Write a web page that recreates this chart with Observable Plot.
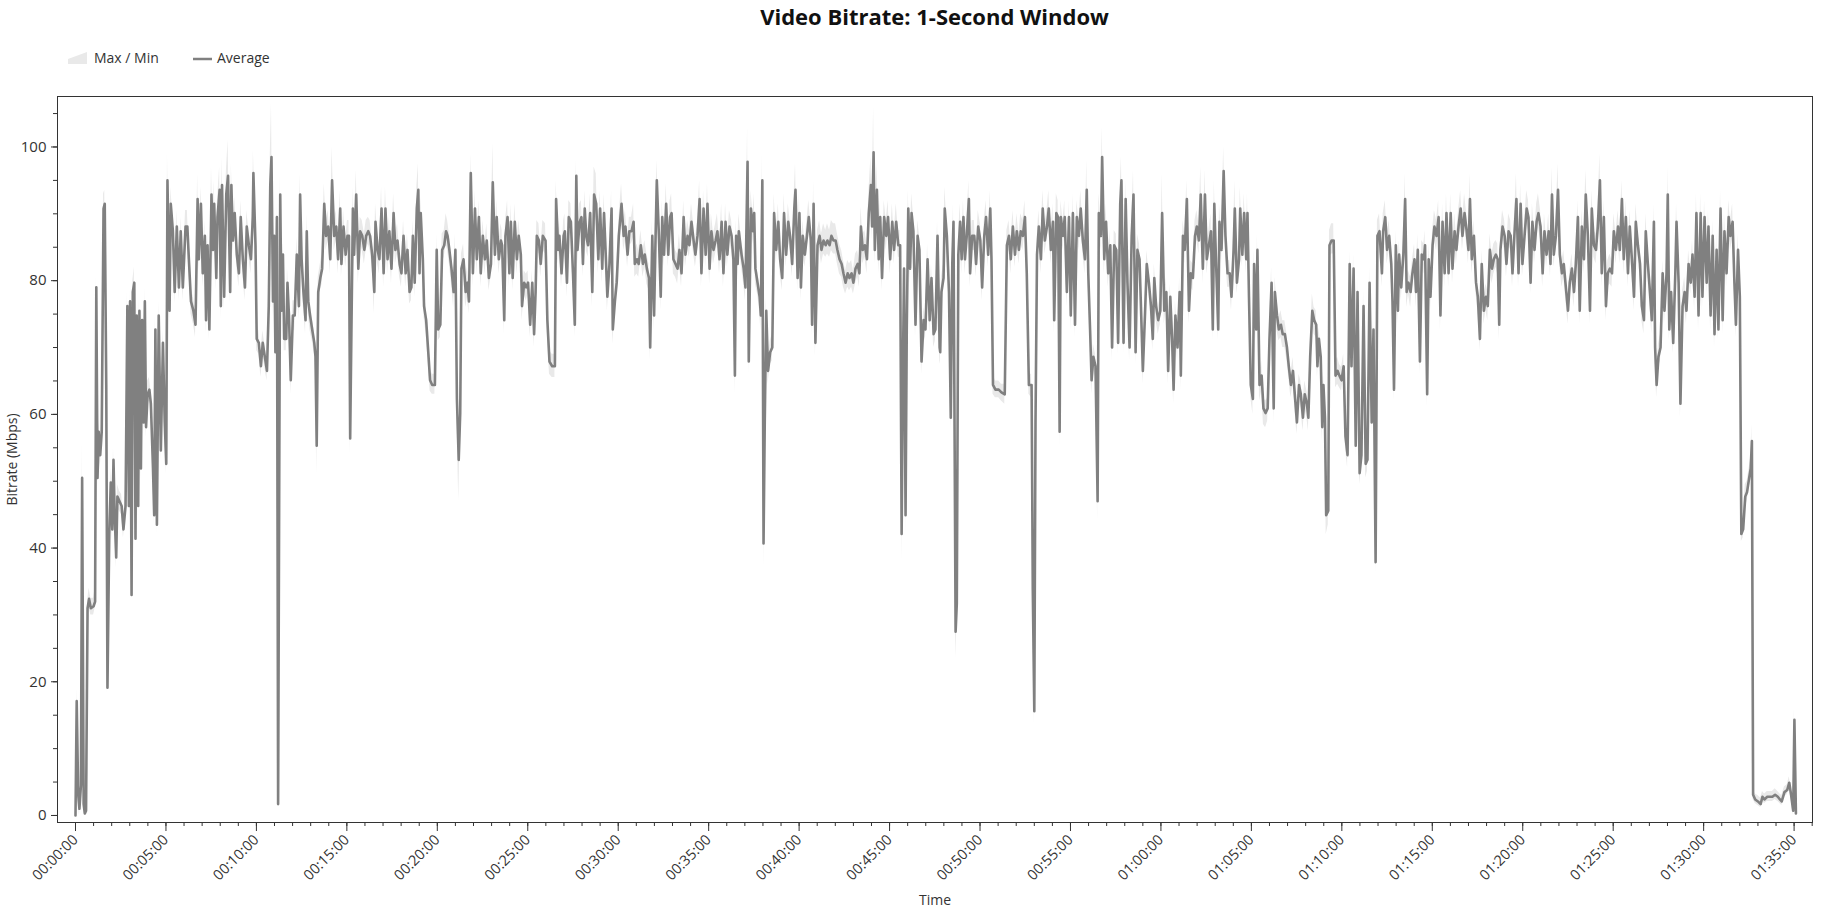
<!DOCTYPE html>
<html>
<head>
<meta charset="utf-8">
<script src="https://cdn.jsdelivr.net/npm/d3@7"></script>
<script src="https://cdn.jsdelivr.net/npm/@observablehq/plot@0.6"></script>
<style>
  html, body { margin: 0; padding: 0; background: #fff; }
  body { font-family: "Open Sans", "Noto Sans", sans-serif; color: #333; }
  #head { position: relative; width: 1838px; height: 80px; }
  #title { position: absolute; left: 0; top: 2px; width: 1869px; text-align: center;
           font-weight: 700; font-size: 22px; line-height: 28px; color: #111; }
  .lg { position: absolute; font-size: 14px; line-height: 20px; top: 48px; color: #333; white-space: nowrap; }
  .sw { position: absolute; }
  #chart svg { display: block; }
</style>
</head>
<body>
<div id="head">
  <div id="title">Video Bitrate: 1-Second Window</div>
  <svg class="sw" style="left:68px;top:52px" width="20" height="12"><polygon points="0,12 0,7 19,0 19,12" fill="#e9e9e9"/></svg>
  <div class="lg" style="left:94px">Max / Min</div>
  <svg class="sw" style="left:193px;top:53px" width="20" height="12"><line x1="0" y1="6" x2="19" y2="6" stroke="#808080" stroke-width="2.5"/></svg>
  <div class="lg" style="left:217px">Average</div>
</div>
<div id="chart"></div>
<script>
// Time of each 1-second window sample (seconds from start)
const timeSec = [
  0,4,9,13,18,22,27,31,35,40,
  45,51,60,65,69,73,77,82,87,93,
  97,102,106,112,117,122,126,130,135,139,
  146,153,159,166,172,177,181,186,190,195,
  199,203,208,212,217,221,226,230,234,239,
  245,250,257,261,265,270,276,283,290,296,
  301,305,312,316,323,329,336,343,349,356,
  365,371,376,383,391,398,405,409,416,422,
  429,433,438,444,451,456,460,467,471,478,
  482,486,493,500,506,513,517,522,528,535,
  542,548,555,562,568,575,582,588,590,597,
  601,608,615,621,628,635,641,646,650,655,
  659,663,668,672,679,683,688,692,699,703,
  708,714,721,727,734,741,745,750,756,763,
  767,772,778,785,792,796,800,805,812,818,
  825,831,838,845,851,858,865,871,878,882,
  889,896,902,907,911,915,920,924,931,938,
  944,951,958,964,971,977,984,991,995,1002,
  1008,1015,1022,1028,1035,1041,1048,1055,1061,1068,
  1075,1081,1088,1095,1101,1108,1114,1119,1125,1132,
  1137,1141,1145,1152,1156,1163,1170,1176,1183,1192,
  1198,1203,1210,1216,1223,1229,1234,1240,1247,1254,
  1260,1265,1271,1276,1280,1287,1294,1300,1305,1311,
  1318,1325,1331,1338,1344,1351,1358,1364,1371,1378,
  1384,1391,1397,1404,1411,
  1415,1422,1426,1433,1439,1444,1450,1457,1464,1470,
  1477,1481,1488,1495,1501,1508,1515,1521,1526,1530,
  1537,1543,1550,1559,1565,1572,1581,1590,1594,1601,
  1605,1612,1619,1623,1630,1636,1643,1650,1656,1661,
  1665,1672,1678,1683,1689,1694,1700,1707,1714,1720,
  1727,1734,1740,1747,1753,1758,1764,1771,1778,1782,
  1789,1795,1802,1811,1818,1824,1831,1837,1844,1851,
  1855,1862,1868,1875,1882,1888,1895,1902,1906,1913,
  1919,1924,1928,1935,1941,1946,1952,1959,1966,1972,
  1977,1983,1990,1997,2003,2010,2017,2023,2030,2036,
  2043,2050,2056,2063,2070,2076,2083,2090,2096,2103,
  2109,2116,2123,2129,2136,2143,2149,2156,2162,2169,
  2176,2182,2187,2191,2196,2200,2209,2216,2222,2229,
  2233,2240,2247,2251,2255,2262,2269,2273,2278,2282,
  2286,2291,2297,2304,2311,2317,2324,2331,2337,2344,
  2350,2357,2364,2370,2377,2384,2388,2395,2401,2406,
  2412,2419,2426,2432,2439,2443,2448,2454,2461,2468,
  2474,2481,2488,2494,2501,2507,2514,2521,2527,2534,
  2541,2547,2554,2561,2567,2574,2580,2587,2594,2600,
  2605,2611,2618,2625,2631,2638,2642,2647,2651,2658,
  2664,2669,2675,2682,2689,2695,2702,2709,2715,2722,
  2729,2735,2740,2744,2748,2753,2757,2762,2768,2773,
  2779,2786,2793,2799,2806,2813,2819,2826,2833,2839,
  2846,2852,2859,2866,
  2868,2872,2879,2883,2890,2897,2903,2908,2912,2919,
  2923,2928,2934,2939,2945,2950,2956,2963,2967,2974,
  2981,2987,2994,3001,3007,3014,3020,3027,3034,3038,
  3043,3051,3062,3071,3082,3089,3096,3102,3109,3116,
  3122,3129,3135,3142,3149,3155,3162,3171,3175,3180,
  3184,3189,3195,3202,3208,3215,3222,3228,3235,3242,
  3246,3253,3259,3264,3268,3275,3281,3288,3295,3301,
  3308,3315,3321,3328,3334,3341,3348,3354,3359,3365,
  3370,3376,3383,3390,3394,3401,3405,3412,3418,3425,
  3432,3438,3445,3452,3458,3465,3469,3476,3483,3489,
  3496,3503,3509,3516,3522,3529,3536,3540,3547,3553,
  3560,3567,3573,3578,3584,3591,3598,3604,3611,3618,
  3624,3631,3637,3642,3648,3655,3662,3666,3673,3679,
  3686,3693,3699,3706,3713,3719,3726,3732,3739,3746,
  3752,3759,3766,3772,3777,3783,3790,3794,3801,3808,
  3814,3821,3828,3834,3841,3845,3852,3859,3863,3870,
  3876,3883,3887,3892,3898,3905,3909,3916,3920,3927,
  3934,3940,3947,3954,3960,3967,3974,3978,3985,3991,
  3998,4004,4011,4018,4024,4031,4038,4044,4051,4058,
  4064,4071,4077,4084,4089,4095,4102,4108,4115,4119,
  4124,4130,4135,4139,4144,4148,4155,4159,4166,4173,
  4179,4186,4192,4199,4206,4212,4219,4226,4232,4239,
  4246,4252,4259,4265,4272,4279,4285,4292,4299,4305,
  4312,4318,4325,
  4333,4337,4344,4350,4357,4364,4368,4373,4379,4386,
  4390,4397,4404,4410,4415,4421,4428,4434,4441,4446,
  4452,4459,4465,4472,4476,4483,4488,4494,4501,4507,
  4514,4521,4527,4534,4541,4547,4554,4561,4567,4574,
  4580,4587,4594,4600,4607,4614,4620,4625,4631,4638,
  4645,4651,4658,4664,4671,4678,4684,4691,4698,4704,
  4711,4717,4722,4726,4733,4740,4746,4753,4760,4766,
  4773,4779,4786,4793,4799,4806,4813,4819,4826,4832,
  4839,4846,4852,4859,4866,4872,4879,4886,4892,4897,
  4903,4910,4917,4923,4930,4936,4943,4950,4956,4963,
  4970,4976,4983,4989,4996,5003,5009,5016,5023,5029,
  5036,5043,5049,5056,5062,5069,5076,5082,5089,5096,
  5102,5109,5116,5122,5129,5135,5142,5149,5155,5162,
  5169,5175,5182,5189,5195,5202,5208,5215,5222,5228,
  5235,5239,5244,5250,5257,5264,5270,5277,5281,5286,
  5292,5299,5306,5310,5317,5323,5330,5337,5343,5350,
  5357,5363,5370,5376,5383,5390,5396,5403,5410,5416,
  5423,5430,5436,5443,5449,5456,5463,5469,5476,5483,
  5489,5496,5502,5507,5514,5520,5525,5531,5538,5544,
  5551,5556,5560,5564,5571,5580,5589,5595,5602,5611,
  5620,5628,5637,5646,5653,5659,5668,5677,5684,5690,
  5697,5701,5706
];

// Average bitrate (Mbps)
const avgMbps = [
  0.0,17.1,3.1,1.0,4.5,50.5,1.7,0.3,0.7,31.0,
  32.4,31.0,31.3,32.0,79.0,50.5,57.4,53.9,57.4,90.8,
  91.5,64.4,19.1,42.1,49.8,42.8,53.2,44.9,38.6,47.7,
  47.0,46.3,42.8,46.3,76.2,46.3,76.9,33.0,78.3,79.7,
  41.4,74.8,46.3,75.5,51.9,74.1,58.8,76.9,58.1,63.0,
  63.7,61.6,51.9,44.9,72.7,43.5,74.8,54.6,70.7,58.8,
  52.6,95.0,75.5,91.5,87.4,78.3,88.1,79.0,87.4,79.0,
  88.1,88.1,83.2,76.9,75.5,73.4,92.2,83.2,91.5,81.1,
  86.7,74.1,85.3,72.7,92.9,84.6,91.5,80.4,89.5,93.6,
  76.2,94.3,77.6,92.9,95.7,78.3,94.3,86.0,90.1,83.9,
  81.1,89.5,83.2,79.0,88.1,85.3,83.2,89.5,96.1,85.3,
  71.3,70.7,67.2,70.7,68.6,66.5,76.2,94.3,98.5,76.9,
  86.7,69.3,89.5,1.7,92.9,75.5,83.9,71.3,71.3,79.7,
  74.8,65.1,74.8,74.8,83.9,76.2,92.9,83.2,78.3,74.1,
  87.4,76.9,74.8,72.7,70.7,68.6,55.3,78.3,80.4,81.8,
  91.5,86.7,88.1,83.2,95.0,86.7,88.1,83.2,90.8,82.5,
  88.1,83.9,86.7,86.7,56.4,72.0,90.8,83.9,92.9,81.8,
  87.4,86.7,84.6,86.7,87.4,86.7,83.9,78.3,88.8,84.6,
  83.2,90.8,81.1,90.8,83.2,87.4,81.8,90.1,84.6,86.0,
  82.5,81.1,86.7,81.1,84.6,78.3,79.0,86.7,79.7,90.8,
  93.6,81.1,90.1,83.2,76.2,74.1,69.3,65.1,64.4,64.4,
  84.6,72.7,73.4,84.6,85.3,87.4,86.7,84.6,81.8,78.3,
  84.6,62.3,53.2,60.2,81.8,83.2,78.3,79.7,76.9,96.1,
  81.1,90.8,83.2,89.5,81.1,86.7,83.2,86.0,80.4,82.5,
  94.7,83.9,89.5,83.2,86.0,
  85.3,74.1,86.7,89.5,81.1,88.8,80.4,88.8,83.2,86.7,
  83.9,76.2,79.7,79.0,79.7,73.4,79.7,72.0,78.3,86.7,
  86.0,82.5,86.7,86.0,74.1,67.9,67.2,67.2,92.2,84.6,
  86.7,81.1,86.7,87.4,79.7,89.5,88.8,81.1,73.4,95.7,
  84.6,88.8,89.5,82.5,90.8,86.7,85.3,90.1,78.3,92.9,
  91.5,83.2,90.8,81.8,90.1,84.6,77.6,82.5,90.8,72.7,
  76.9,79.7,86.7,91.5,86.7,88.1,83.9,87.4,87.4,88.8,
  82.5,83.2,82.5,85.3,82.5,83.9,81.8,80.4,70.0,86.7,
  74.8,86.7,95.0,86.7,77.6,89.5,83.9,91.5,83.9,89.5,
  90.1,83.2,82.5,81.8,84.6,81.1,89.5,83.9,86.7,85.3,
  88.8,86.0,83.9,86.7,92.2,81.1,90.8,83.9,91.5,81.8,
  87.4,84.6,86.0,87.4,83.2,88.8,81.1,88.8,83.9,88.1,
  86.7,83.2,65.8,86.7,82.5,87.4,83.9,81.8,79.0,97.8,
  67.9,90.8,87.4,90.1,81.8,79.7,77.6,74.8,95.0,40.7,
  58.8,75.5,66.5,69.3,70.0,90.1,84.6,88.8,83.2,80.4,
  90.1,83.9,88.8,86.7,82.5,90.8,93.6,80.4,90.1,79.0,
  86.7,83.9,86.7,89.5,86.0,73.4,91.5,70.7,85.3,86.7,
  84.6,86.0,85.3,86.0,85.3,86.7,86.0,86.0,84.6,83.2,
  82.5,81.1,79.7,81.1,80.4,81.1,79.7,81.8,82.5,81.1,
  88.1,84.6,85.3,83.2,90.1,94.3,88.1,99.2,84.6,93.6,
  83.2,89.5,80.4,89.5,86.7,89.5,83.2,88.8,84.6,88.8,
  85.3,85.3,42.1,65.8,81.8,44.9,72.7,90.8,81.8,90.1,
  87.4,73.4,86.7,84.6,67.9,74.1,72.7,83.2,74.1,80.4,
  72.0,72.7,86.7,70.0,
  69.3,78.3,80.4,90.8,86.7,78.3,59.5,82.5,88.8,27.5,
  31.7,83.9,88.8,83.2,89.5,83.2,86.7,92.2,81.1,86.7,
  86.7,82.5,88.1,86.0,79.0,86.7,89.5,83.9,90.8,83.2,
  64.4,63.7,63.7,63.3,63.0,85.3,86.7,83.2,88.1,83.9,
  87.4,84.6,87.4,86.7,89.5,81.1,64.4,64.4,33.8,15.6,
  58.8,83.9,88.1,83.2,90.8,86.0,88.1,90.8,84.6,88.8,
  74.1,90.1,89.5,57.4,89.5,86.7,89.5,78.3,89.5,74.8,
  90.1,73.4,89.5,86.7,90.8,86.0,83.2,93.6,81.1,72.7,
  65.1,68.6,67.2,47.0,90.1,86.7,98.5,83.2,88.8,81.1,
  85.3,70.0,85.3,84.6,70.7,91.5,95.0,70.7,92.2,79.7,
  70.0,86.7,92.9,69.3,84.6,83.2,72.7,66.5,74.8,82.5,
  79.7,76.2,71.3,80.4,76.2,74.1,75.5,90.1,75.5,78.3,
  66.5,77.6,71.3,63.7,74.8,70.0,78.3,65.8,86.7,84.6,
  92.2,75.5,81.1,80.4,86.7,88.1,86.0,92.9,81.8,92.9,
  83.2,85.3,87.4,72.7,91.5,82.5,72.7,88.8,84.6,96.4,
  86.7,81.1,81.1,77.6,84.6,90.8,79.7,83.2,90.8,83.9,
  90.1,83.2,90.1,77.6,64.4,62.3,82.5,72.7,84.6,64.4,
  65.8,60.9,60.2,60.9,71.3,79.7,60.9,78.3,74.8,72.7,
  73.4,72.0,72.0,70.0,67.2,64.4,66.5,63.0,58.8,64.4,
  63.0,59.5,63.0,61.6,59.5,68.6,75.5,74.1,73.4,67.2,
  71.3,68.6,58.1,64.4,59.5,44.9,45.6,85.3,86.0,86.0,
  65.8,66.5,65.8,65.1,67.2,56.7,53.9,82.5,67.2,81.8,
  55.3,78.3,51.2,53.9,76.2,52.6,53.2,79.7,58.8,72.7,
  37.9,86.7,87.4,
  81.1,87.4,89.5,84.6,86.7,82.5,76.9,63.7,85.3,75.5,
  83.9,79.0,83.9,92.2,78.3,79.7,78.3,81.1,83.2,78.3,
  84.6,67.9,83.9,83.2,85.3,63.0,83.2,77.6,85.3,88.1,
  86.7,89.5,74.8,88.8,81.1,90.1,81.1,90.1,81.8,87.4,
  84.6,88.1,90.8,86.7,90.1,87.4,84.6,92.2,83.2,86.7,
  79.7,77.6,71.3,82.5,75.5,77.6,76.2,84.6,81.8,83.2,
  83.9,83.2,73.4,84.6,88.1,86.7,82.5,87.4,86.7,81.1,
  87.4,92.2,81.1,91.5,82.5,86.7,90.8,89.5,79.7,88.8,
  84.6,88.8,90.1,88.1,81.1,87.4,83.9,87.4,82.5,92.9,
  83.9,86.7,93.6,83.9,81.1,82.5,79.0,75.5,79.7,81.8,
  78.3,82.5,89.5,75.5,88.1,83.2,92.9,86.7,75.5,90.8,
  85.3,84.6,88.1,95.0,81.1,89.5,76.2,81.1,81.8,81.1,
  87.4,84.6,88.1,84.6,92.2,83.2,89.5,81.1,88.1,83.2,
  77.6,88.8,85.3,82.5,76.2,74.1,87.4,82.5,78.3,74.1,
  88.8,70.0,64.4,68.6,70.0,81.1,75.5,81.1,92.9,72.7,
  78.3,70.7,81.1,88.8,79.7,61.6,76.2,78.3,75.5,82.5,
  79.7,83.9,77.6,90.1,74.8,90.1,77.6,89.5,79.7,88.1,
  74.8,86.7,72.0,84.6,72.7,90.8,74.1,87.4,81.1,89.5,
  86.7,88.8,79.7,73.4,84.6,77.6,42.1,42.8,47.7,48.4,
  50.5,51.9,56.0,3.1,2.4,2.1,1.7,2.8,2.4,2.8,
  2.8,2.8,3.1,2.8,2.4,2.1,3.5,3.8,4.9,3.1,
  0.7,14.3,0.3
];

// Maximum bitrate within each window (Mbps)
const maxMbps = [
  0.5,19,4,2,5.5,56,2.5,1,1.5,32,
  34,32.5,32.5,34,81,52,59,55.5,59,93,
  93.5,66,20.5,44,52,44.5,55,47,40,49.5,
  48.5,48,44.5,48,78.5,48,79,35,80,82,
  43,77,48,77.5,53.5,76,60.5,79,60,65,
  65.5,63.5,53.5,46.5,75,45,77,56.5,72.5,60.5,
  54,99,77.5,94,89.5,80,90.5,81,89.5,81,
  90.5,90.5,85,79,77.5,75.5,96,85.5,94,83,
  89,76,87.5,75,97,87,95,82.5,92,97,
  78.5,98.5,80,96,101,80.5,97.5,88.5,92.5,86,
  83.5,92,85.5,81,90.5,87.5,85.5,92,99.5,87.5,
  73,72.5,69,72.5,70.5,68,78.5,99,106.5,79,
  89,71,92,4,96,77.5,86,73,73,82,
  77,67,77,77,86.5,78.5,96,85.5,80.5,76,
  90,79,77,74.5,72.5,70.5,57,80.5,82.5,84,
  94.5,89,90.5,85.5,100,89,90.5,85.5,93.5,84.5,
  90.5,86,89,89,58.5,74,94,86,96.5,84,
  89.5,89,87,89,89.5,89,86,80.5,91.5,87,
  85.5,94,83,94,85.5,89.5,84,93,87,88.5,
  84.5,83,89,83,87,80.5,81,89,82,94,
  97.5,83,92.5,85.5,78,76,71,67,66,66,
  87,74.5,75.5,87,87.5,90,89,87,84,80.5,
  87,64,55,62,84,85.5,80.5,82,79,99,
  83,93.5,85.5,92,83,89,85.5,88.5,82.5,84.5,
  100.5,86,92,85.5,88.5,
  87.5,76,89,92,83,91.5,82.5,91.5,85.5,89,
  86,78,81.5,81,81.5,75.5,81.5,74,80.5,89,
  88.5,84.5,89,88.5,76,69.5,69,69,95,87,
  89,83,89,90,81.5,92,91.5,83,75.5,98,
  87,91.5,92,84.5,93.5,89,87.5,93,80.5,97,
  96,85.5,93.5,84,93,87,79.5,84.5,93.5,74.5,
  79,81.5,89,94.5,89,90.5,86,89.5,89.5,91.5,
  84.5,85.5,84.5,87.5,84.5,86,84,82.5,72,89,
  77,89,98,89,79.5,92,86,94.5,86,92,
  93,85.5,84.5,84,87,83,92,86,89,87.5,
  91.5,88.5,86,89,95,83,93.5,86,94.5,84,
  90,87,88.5,90,85.5,91.5,83,91.5,86,90.5,
  89,85.5,68,89,84.5,90,86,84,81,103,
  70,93.5,90,93,84,81.5,79.5,77,99,43,
  61,77.5,68.5,71,72,93,87,91.5,85.5,82.5,
  93,86,91.5,89,84.5,93.5,97.5,82.5,93,81,
  89,86,89,92,88.5,75.5,95,72.5,87.5,89,
  87,88.5,87.5,88.5,87.5,89,88.5,88.5,87,85.5,
  84.5,83,81.5,83,82.5,83,81.5,84,84.5,83,
  91,87,87.5,85.5,93,98.5,91,106,87,97.5,
  85.5,92,82.5,92,89,92,85.5,91.5,87,91.5,
  87.5,87.5,44.5,68,84,47,75,93.5,84,93,
  90,75.5,89,87,70,76,74.5,85.5,76,82.5,
  74,74.5,89,72,
  71,80.5,82.5,94,89,80.5,61.5,84.5,91.5,30,
  34,86,91.5,85.5,92,85.5,89,95,83,89,
  89,84.5,90.5,88.5,81,89,92,86,93.5,85.5,
  66,65,65,64.5,64.5,87.5,89,85.5,90.5,86,
  90,87,90,89,92,83,66,66,36,18,
  61,86,90.5,85.5,93.5,88.5,90.5,93.5,87,91.5,
  76,93,92,59.5,92,89,92,80.5,92,77,
  93,75.5,92,89,93.5,88.5,85.5,98,83,74.5,
  67,70.5,69,49,93,89,103,85.5,91.5,83,
  87.5,72,87.5,87,72.5,94.5,98.5,72.5,95,81.5,
  72,89,96.5,71,87,85.5,74.5,68.5,77,84.5,
  81.5,78.5,73,82.5,78.5,76,77.5,96,77.5,80.5,
  68.5,79.5,73,65.5,77,72,80.5,68,89,87,
  95,77.5,83,82.5,89,90.5,88.5,97,84,96.5,
  85.5,87.5,90,74.5,95,84.5,74.5,91.5,87,100,
  89,83,83,79.5,87,95,81.5,85.5,94,86,
  93,85.5,93,79.5,66,64,84.5,74.5,87,66,
  68,62.5,62,62.5,73,82,63,80.5,77,74.5,
  75.5,74,74,72,69,66,68.5,65,61,66,
  65,61.5,65,63.5,61.5,70.5,78,76,75.5,69,
  73,70.5,60,66,61.5,47,47.5,87.5,88.5,88.5,
  68,68.5,67.5,67,69,58.5,56,84.5,69,84,
  57,80.5,53,55.5,78.5,54.5,55,82,61,74.5,
  40,89,90,
  83,90,92,87,89,84.5,79,65.5,87.5,77.5,
  86,81,86,96,80.5,81.5,80.5,83,85.5,80.5,
  87,70,86,85.5,87.5,65,85.5,79.5,87.5,90.5,
  89,92,77,91.5,83,93,83,93,84,90,
  87,90.5,93.5,89,93,90,87,96,85.5,89,
  81.5,79.5,73,84.5,77.5,79.5,78.5,87,84,85.5,
  86,85.5,75.5,87,90.5,89,84.5,90,89,83,
  90,96,83,94.5,84.5,89,93.5,92,81.5,91.5,
  87,91.5,93,90.5,83,90,86,90,84.5,97,
  86,89,97.5,86,83,84.5,81,77.5,81.5,84,
  80.5,84.5,92,77.5,90.5,85.5,96.5,89,77.5,93.5,
  87.5,87,90.5,99,83,92,78.5,83,84,83,
  90,87,90.5,87,95,85.5,92,83,90.5,85.5,
  79.5,91.5,87.5,84.5,78.5,76,90,84.5,80.5,76,
  91.5,72,66,70.5,72,83,77.5,83,97,74.5,
  80.5,72.5,83,91.5,81.5,63.5,78.5,80.5,77.5,84.5,
  81.5,86,79.5,93,77,93,79.5,92,81.5,90.5,
  77,89,74,87,74.5,93.5,76,90,83,92,
  89,91.5,81.5,75.5,87,79.5,44,44.5,49.5,50,
  52,53.5,58.5,4,3.2,3,2.6,3.6,3.2,3.6,
  3.6,3.6,4,3.6,3.2,3,4.3,4.6,5.8,4,
  1.5,16,1
];

// Minimum bitrate within each window (Mbps)
const minMbps = [
  0,15,2,0,3,48,0.5,0,0,29.5,
  31,30,30,31,76,49,55.5,52,55.5,88.5,
  90,62,18,40.5,48,41,51.5,43,37,46,
  45.5,45,41.5,45,74,44.5,75,32,76.5,77.5,
  40,72.5,44.5,73.5,50,72,57,75,56.5,61.5,
  62,60,50.5,43.5,70.5,42,72.5,53,69,57,
  51,92,73.5,89,85.5,76.5,86,77,85.5,77,
  86,86,81.5,75,73.5,71.5,89.5,81.5,89,79,
  84.5,72,83.5,71,90.5,82.5,89.5,78.5,87.5,91,
  74,91.5,75.5,90.5,93,76.5,92,84,88,82,
  79,87.5,81,77,86,83.5,81,87.5,93.5,83.5,
  69.5,69,65.5,69,67,65,74,91,95,74.5,
  84.5,67.5,87,0,90,73.5,82,69.5,69.5,77.5,
  72.5,63,72.5,72.5,81.5,74,90.5,81,76,72,
  85,75,72.5,71,69,66.5,51,76,78.5,79.5,
  89.5,84.5,86,81,92.5,84.5,86,81,88.5,80.5,
  86,82,84.5,84.5,54,70,88.5,82,90.5,79.5,
  85.5,84.5,82.5,84.5,85.5,84.5,82,75,86.5,82.5,
  81,88.5,79,88.5,81,85.5,79.5,88,82.5,84,
  80.5,79,84.5,79,82.5,76.5,77,84.5,77.5,88.5,
  91,79,88,81,74.5,72,67.5,63.5,63,63,
  82.5,71,71.5,82.5,83.5,85.5,84.5,82.5,79.5,76,
  82.5,60,47,58.5,79.5,81,76,77.5,75,93.5,
  79,88.5,81,87.5,79,84.5,81,84,78.5,80.5,
  92,82,87.5,81,84,
  83.5,72,84.5,87.5,79,86.5,78.5,86.5,81,84.5,
  82,74,78,77,78,71.5,78,70,76.5,84.5,
  84,80.5,84.5,84,72,66,65.5,65.5,89.5,82.5,
  84.5,79,84.5,85.5,77.5,87.5,86.5,79,71.5,93,
  82.5,86.5,87.5,80.5,88.5,84.5,83.5,88,76,90.5,
  89,81,88.5,79.5,88,82.5,75.5,80.5,88.5,70.5,
  75,78,84.5,89.5,84.5,86,82,85.5,85.5,86.5,
  80.5,81,80.5,83.5,80.5,82,79.5,78.5,68,84.5,
  72.5,84.5,92.5,84.5,75.5,87.5,82,89,82,87.5,
  88,81,80.5,79.5,82.5,79,87.5,82,84.5,83.5,
  86.5,84,82,84.5,89.5,79,88.5,82,89,79.5,
  85,82.5,84,85.5,81,86.5,79,86.5,82,86,
  84.5,81,63,84.5,80.5,85.5,82,79.5,77,94,
  66,88.5,85.5,88,79.5,78,75.5,72.5,92.5,37,
  56.5,73.5,64.5,67.5,68,88,82.5,86.5,81,78.5,
  88,82,86.5,84.5,80.5,88.5,91,78.5,88,77,
  84.5,82,84.5,87.5,84,71.5,89,68.5,83.5,84.5,
  82.5,84,83.5,84,83.5,84.5,84,84,82.5,81,
  80.5,79,78,79,78.5,79,78,79.5,80.5,79,
  86,82.5,83.5,81,88,91.5,86,96,82.5,91,
  81,87.5,78.5,87.5,84.5,87.5,81,86.5,82.5,86.5,
  83.5,83.5,38,63,79.5,42,70.5,88.5,79.5,88,
  85,71.5,84.5,82.5,66,72,71,81,72,78.5,
  70,71,84.5,68,
  67.5,76,78.5,88.5,84.5,76,57.5,80.5,86.5,23.5,
  29,82,86.5,81,87.5,81,84.5,89.5,79,84.5,
  84.5,80.5,86,84,77,84.5,87.5,82,88.5,81,
  63,62.5,62.5,62,61.5,83.5,84.5,81,86,82,
  85.5,82.5,85.5,84.5,87.5,79,63,62.5,31,13.5,
  56.5,82,86,81,88.5,84,86,88.5,82.5,86.5,
  72,88,87.5,55,87.5,84.5,87.5,76,87.5,72.5,
  88,71.5,87.5,84.5,88.5,84,81,91,79,71,
  63,67,65.5,44,88,84.5,96,81,86.5,79,
  83.5,68,83.5,82.5,69,89,92.5,69,89.5,78,
  68,84.5,90.5,67.5,82.5,81,71,64.5,72.5,80.5,
  78,74,69.5,78.5,74,72,73.5,87.5,73.5,76,
  64.5,75.5,69.5,61.5,72.5,68,76,63.5,84.5,82.5,
  89.5,73.5,79,78.5,84.5,86,84,90.5,79.5,90.5,
  81,83.5,85.5,71,89,80.5,71,86.5,82.5,93.5,
  84.5,79,79,75.5,82.5,88.5,78,81,88.5,82,
  88,81,88,75.5,62.5,60,80.5,71,82.5,62,
  63.5,58.5,58,59,69.5,77.5,58.5,76,72.5,71,
  71.5,70,70,68,65.5,62.5,64.5,61,57,62.5,
  61,57.5,61,59.5,57.5,66.5,73.5,72,71.5,65.5,
  69.5,67,56,62.5,57.5,42,43.5,83.5,84,84,
  64,64.5,64,63.5,65.5,55,52,80.5,65.5,79.5,
  53.5,76,49.5,52,74,50.5,51.5,77.5,57,71,
  36,84.5,85.5,
  79,85.5,87.5,82.5,84.5,80.5,75,62,83.5,73.5,
  82,77,82,89.5,76,78,76,79,81,76,
  82.5,66,82,81,83.5,61,81,75.5,83.5,86,
  84.5,87.5,72.5,86.5,79,88,79,88,79.5,85.5,
  82.5,86,88.5,84.5,88,85.5,82.5,89.5,81,84.5,
  78,75.5,69.5,80.5,73.5,75.5,74,82.5,79.5,81,
  82,81,71,82.5,86,84.5,80.5,85.5,84.5,79,
  85.5,89.5,79,89,80.5,84.5,88.5,87.5,78,86.5,
  82.5,86.5,88,86,79,85.5,82,85.5,80.5,90.5,
  82,84.5,91,82,79,80.5,77,73.5,78,79.5,
  76,80.5,87.5,73.5,86,81,90.5,84.5,73.5,88.5,
  83.5,82.5,86,92.5,79,87.5,74,79,79.5,79,
  85.5,82.5,86,82.5,89.5,81,87.5,79,86,81,
  75.5,86.5,83.5,80.5,74,72,85.5,80.5,76,72,
  86.5,68,62.5,67,68,79,73.5,79,90.5,71,
  76,69,79,86.5,78,59.5,74,76,73.5,80.5,
  78,82,75.5,88,72.5,88,75.5,87.5,78,86,
  72.5,84.5,70,82.5,71,88.5,72,85.5,79,87.5,
  84.5,86.5,78,71.5,82.5,75.5,41,41.5,46,47,
  49,50.5,54.5,2.4,1.8,1.5,1.2,2.1,1.8,2.1,
  2.1,2.1,2.4,2.1,1.8,1.5,2.8,3.1,4.1,2.4,
  0,12.5,0
];

// Axis ticks
const xLabelTicks = d3.range(0, 5701, 300);   // every 5 minutes
const xMinorTicks = d3.range(0, 5761, 60);    // every minute
const yLabelTicks = [0, 20, 40, 60, 80, 100];
const yMinorTicks = d3.range(0, 106, 5);
const yLabel = "Bitrate (Mbps)";
const xLabel = "Time";

const n = Math.min(timeSec.length, avgMbps.length, maxMbps.length, minMbps.length);
const rows = d3.range(n).map(i => ({t: timeSec[i], avg: avgMbps[i], lo: minMbps[i], hi: maxMbps[i]}));

const hms = s => {
  const h = Math.floor(s / 3600), m = Math.floor((s % 3600) / 60), sec = Math.round(s % 60);
  return [h, m, sec].map(v => String(v).padStart(2, "0")).join(":");
};

const chart = Plot.plot({
  width: 1838,
  height: 836,
  marginTop: 16,
  marginBottom: 94,
  marginLeft: 57,
  marginRight: 26,
  style: {fontFamily: "'Open Sans', 'Noto Sans', sans-serif", fontSize: "15px", color: "#333", background: "#fff"},
  x: {type: "linear", domain: [-59.7, 5761]},
  y: {domain: [-1.05, 107.55]},
  marks: [
    Plot.areaY(rows, {x: "t", y1: "lo", y2: "hi", fill: "#e9e9e9"}),
    Plot.lineY(rows, {x: "t", y: "avg", stroke: "#808080", strokeWidth: 2.6}),
    Plot.frame({stroke: "#333"}),
    Plot.axisY({ticks: yMinorTicks, tickSize: 4, tickFormat: () => "", label: null, stroke: "#333"}),
    Plot.axisY({ticks: yLabelTicks, tickSize: 6, tickPadding: 5, label: null, stroke: "#333", fill: "#333", fontSize: 15}),
    Plot.axisX({ticks: xMinorTicks, tickSize: 4, tickFormat: () => "", label: null, stroke: "#333"}),
    Plot.axisX({ticks: xLabelTicks, tickSize: 9, tickRotate: -45, tickFormat: hms, label: null, stroke: "#333", fill: "#333", fontSize: 14.5}),
    Plot.text([yLabel], {text: d => d, frameAnchor: "left", dx: -45, rotate: -90, textAnchor: "middle", lineAnchor: "middle", fontSize: 14, fill: "#333"}),
    Plot.text([xLabel], {text: d => d, frameAnchor: "bottom", dy: 78, textAnchor: "middle", lineAnchor: "middle", fontSize: 14, fill: "#333"})
  ]
});
document.getElementById("chart").appendChild(chart);
</script>
</body>
</html>
